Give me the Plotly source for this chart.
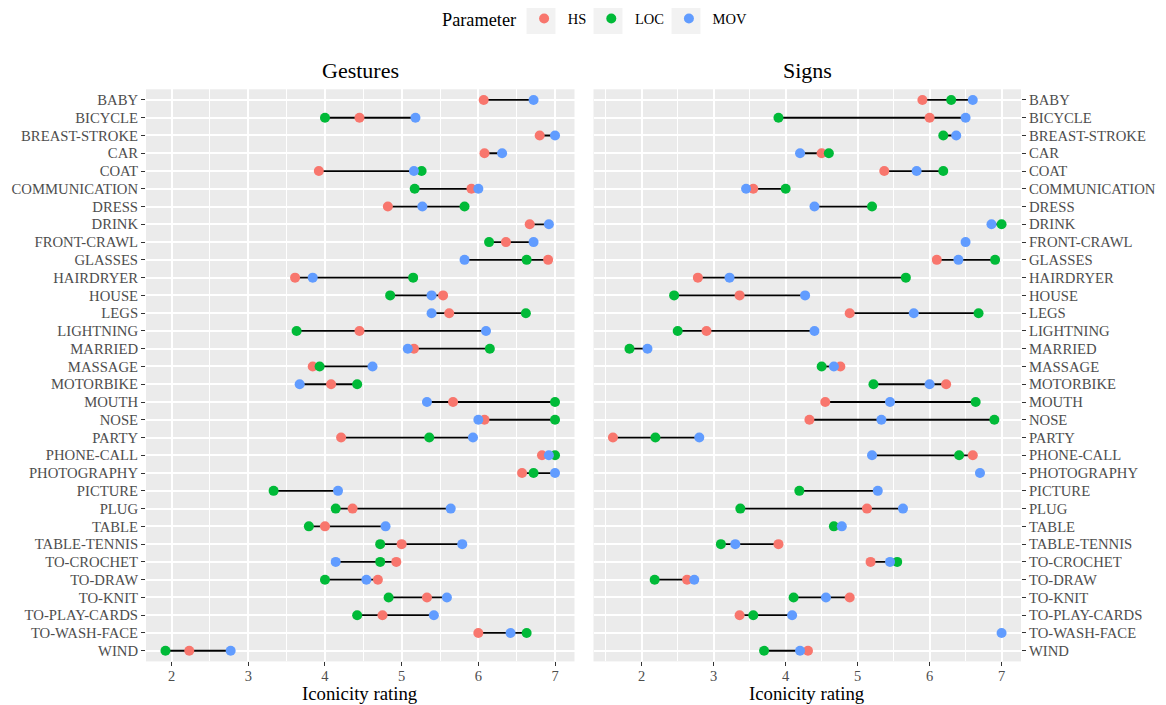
import plotly.graph_objects as go

categories = ["BABY", "BICYCLE", "BREAST-STROKE", "CAR", "COAT", "COMMUNICATION", "DRESS", "DRINK",
              "FRONT-CRAWL", "GLASSES", "HAIRDRYER", "HOUSE", "LEGS", "LIGHTNING", "MARRIED", "MASSAGE",
              "MOTORBIKE", "MOUTH", "NOSE", "PARTY", "PHONE-CALL", "PHOTOGRAPHY", "PICTURE", "PLUG",
              "TABLE", "TABLE-TENNIS", "TO-CROCHET", "TO-DRAW", "TO-KNIT", "TO-PLAY-CARDS", "TO-WASH-FACE", "WIND"]

gestures_hs = [6.07, 4.45, 6.80, 6.08, 3.92, 5.91, 4.82, 6.67, 6.36, 6.91, 3.61, 5.54, 5.62, 4.45, 5.16, 3.84,
               4.08, 5.67, 6.08, 4.21, 6.83, 6.57, None, 4.36, 4.00, 5.00, 4.93, 4.69, 5.33, 4.75, 6.00, 2.23]
gestures_loc = [None, 4.00, None, None, 5.26, 5.17, 5.82, None, 6.14, 6.63, 5.15, 4.85, 6.62, 3.63, 6.15, 3.93,
                4.42, 7.00, 7.00, 5.36, 7.00, 6.72, 3.33, 4.14, 3.79, 4.72, 4.72, 4.00, 4.83, 4.42, 6.63, 1.92]
gestures_mov = [6.72, 5.18, 7.00, 6.31, 5.16, 6.00, 5.27, 6.92, 6.72, 5.82, 3.84, 5.39, 5.39, 6.10, 5.08, 4.62,
                3.67, 5.33, 6.00, 5.93, 6.92, 7.00, 4.17, 5.64, 4.79, 5.79, 4.14, 4.54, 5.59, 5.42, 6.42, 2.77]

signs_hs = [5.90, 6.00, None, 4.50, 5.37, 3.55, None, None, None, 6.10, 2.78, 3.36, 4.89, 2.90, None, 4.76,
            6.23, 4.55, 4.33, 1.60, 6.60, None, None, 5.13, None, 3.90, 5.18, 2.63, 4.89, 3.36, None, 4.31]
signs_loc = [6.30, 3.90, 6.19, 4.60, 6.19, 4.00, 5.20, 7.00, None, 6.91, 5.67, 2.45, 6.68, 2.50, 1.83, 4.50,
             5.22, 6.64, 6.90, 2.19, 6.41, None, 4.19, 3.37, 4.67, 3.10, 5.55, 2.18, 4.11, 3.55, None, 3.70]
signs_mov = [6.60, 6.50, 6.37, 4.20, 5.82, 3.45, 4.40, 6.86, 6.50, 6.40, 3.22, 4.27, 5.78, 4.40, 2.08, 4.67,
             6.00, 5.45, 5.33, 2.80, 5.20, 6.70, 5.28, 5.63, 4.78, 3.30, 5.45, 2.73, 4.56, 4.09, 7.00, 4.20]

parameters = ["HS", "LOC", "MOV"]
colors = {"HS": "#F8766D", "LOC": "#00BA38", "MOV": "#619CFF"}
panels = [
    ("Gestures", {"HS": gestures_hs, "LOC": gestures_loc, "MOV": gestures_mov}),
    ("Signs", {"HS": signs_hs, "LOC": signs_loc, "MOV": signs_mov}),
]

FONT = "Liberation Serif"
# page body has an 8px margin; positions below are in figure pixels
W, H = 1158, 697
x_domains = [(138 / W, 566.5 / W), (585.5 / W, 1013 / W)]
y_domain = (1 - 653.4 / H, 1 - 81.3 / H)

fig = go.Figure()
layout_axes = {}
annotations = []

for i, (title, series) in enumerate(panels):
    xa = "x" if i == 0 else "x2"
    ya = "y" if i == 0 else "y2"
    seg_x, seg_y = [], []
    allv = []
    for j, c in enumerate(categories):
        vals = [series[p][j] for p in parameters if series[p][j] is not None]
        allv += vals
        seg_x += [min(vals), max(vals), None]
        seg_y += [c, c, None]
    fig.add_trace(go.Scatter(x=seg_x, y=seg_y, mode="lines", line=dict(color="black", width=1.8),
                             xaxis=xa, yaxis=ya, showlegend=False, hoverinfo="skip"))
    for p in parameters:
        fig.add_trace(go.Scatter(x=series[p], y=categories, mode="markers", name=" " + p,
                                 marker=dict(color=colors[p], size=10, line=dict(width=0)),
                                 xaxis=xa, yaxis=ya, showlegend=(i == 0), legendgroup=p))
    lo, hi = min(allv), max(allv)
    pad = (hi - lo) * 0.05
    key = "" if i == 0 else "2"
    layout_axes["xaxis" + key] = dict(
        domain=list(x_domains[i]), range=[lo - pad, hi + pad], anchor=ya,
        dtick=1, tick0=0, showgrid=True, gridcolor="white", gridwidth=1.8,
        minor=dict(dtick=0.5, tick0=0, showgrid=True, gridcolor="white", gridwidth=0.9, ticks=""),
        zeroline=False, showline=False, ticks="outside", ticklen=4, tickcolor="#333333", tickwidth=1.1,
        tickfont=dict(family=FONT, size=14.5, color="#4D4D4D"), automargin=False, ticklabelstandoff=-3,
    )
    layout_axes["yaxis" + key] = dict(
        domain=list(y_domain), type="category", categoryorder="array", categoryarray=categories,
        tickmode="array", tickvals=categories, ticktext=categories,
        range=[len(categories) - 0.4, -0.6], anchor=xa, side="left" if i == 0 else "right",
        showgrid=True, gridcolor="white", gridwidth=1.8, zeroline=False, showline=False,
        ticks="outside", ticklen=4, tickcolor="#333333", tickwidth=1.1,
        tickfont=dict(family=FONT, size=14.7, color="#4D4D4D"), automargin=False,
    )
    xmid = (x_domains[i][0] + x_domains[i][1]) / 2
    annotations.append(dict(text=title, x=xmid, y=1 - 62 / H, xref="paper", yref="paper",
                            xanchor="center", yanchor="middle", showarrow=False,
                            font=dict(family=FONT, size=22, color="black")))
    annotations.append(dict(text="Iconicity rating", x=xmid, y=1 - 685 / H, xref="paper", yref="paper",
                            xanchor="center", yanchor="middle", showarrow=False,
                            font=dict(family=FONT, size=18.8, color="black")))

# grey legend key backgrounds (ggplot style)
shapes = []
for cx in [533, 600, 678]:
    shapes.append(dict(type="rect", xref="paper", yref="paper", layer="below",
                       x0=(cx - 14.5) / W, x1=(cx + 14.5) / W, y0=1 - 26 / H, y1=1.0,
                       fillcolor="#F2F2F2", line=dict(width=0)))

fig.update_layout(
    width=W, height=H, template="none",
    margin=dict(l=0, r=0, t=0, b=0, autoexpand=False),
    paper_bgcolor="white", plot_bgcolor="#EBEBEB",
    font=dict(family=FONT, color="black"),
    annotations=annotations, shapes=shapes,
    legend=dict(orientation="h", x=588 / W, xanchor="center", y=1 - 11.5 / H, yanchor="middle",
                title=dict(text="Parameter", side="left", font=dict(family=FONT, size=18.3)),
                font=dict(family=FONT, size=14.5), bgcolor="rgba(0,0,0,0)"),
    **layout_axes,
)

fig.write_html("out.html")
